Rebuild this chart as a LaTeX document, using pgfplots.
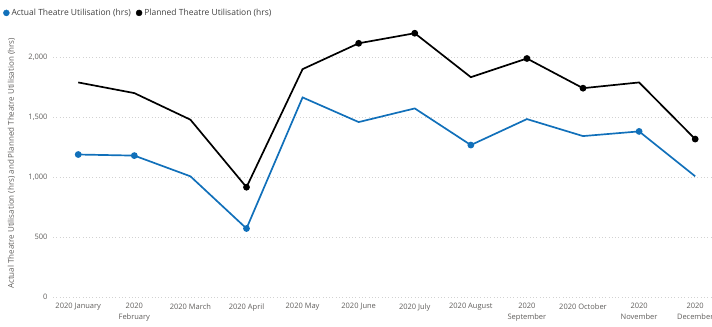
\documentclass[border=0pt]{standalone}
\usepackage{fontspec}
\setmainfont{Open Sans}
\usepackage{pgfplots}
\pgfplotsset{compat=1.18}
\usepackage{pgfplotstable}

\definecolor{actualblue}{RGB}{17,112,186}
\definecolor{ticktext}{RGB}{96,94,92}
\definecolor{legendtext}{RGB}{64,64,64}
\definecolor{gridgray}{RGB}{210,210,210}

% month index, hours
\pgfplotstableread{
m actual planned
0  1190 1792
1  1181 1703
2  1008 1481
3  572  917
4  1667 1903
5  1461 2119
6  1575 2203
7  1269 1836
8  1486 1992
9  1344 1744
10 1383 1792
11 1008 1319
}\theatre

\begin{document}
\begin{tikzpicture}
\path[use as bounding box] (0,0) rectangle (712bp,327bp);
\begin{axis}[
  at={(53bp,30bp)}, anchor=south west,
  scale only axis,
  width=659bp, height=267bp,
  xmin=-0.45, xmax=11.3,
  ymin=0, ymax=2230,
  axis line style={draw=none},
  major tick length=0pt,
  ytick={0,500,1000,1500,2000},
  yticklabel style={font=\fontsize{7.5bp}{9bp}\selectfont, text=ticktext, xshift=-2bp},
  /pgf/number format/assume math mode=true,
  /pgf/number format/1000 sep={,},
  ymajorgrids,
  grid style={gridgray, line width=0.7pt, dash pattern=on 0.7pt off 2.6pt},
  xtick={0,...,11},
  xticklabels={2020 January, 2020\\February, 2020 March, 2020 April, 2020 May, 2020 June, 2020 July, 2020 August, 2020\\September, 2020 October, 2020\\November, 2020\\December},
  xticklabel style={font=\fontsize{7.5bp}{11bp}\selectfont, text=ticktext, align=center, anchor=north, yshift=-3bp},
  ylabel={Actual Theatre Utilisation (hrs) and Planned Theatre Utilisation (hrs)},
  ylabel style={font=\fontsize{8bp}{9bp}\selectfont, text=ticktext},
  every axis y label/.append style={at={(axis description cs:-0.052,0.5)}, anchor=south, rotate=0},
  legend columns=2,
  legend style={at={(axis description cs:-0.0759,1.064)}, anchor=west, draw=none, fill=none,
    font=\fontsize{8.5bp}{10bp}\selectfont, text=legendtext,
    /tikz/every even column/.append style={column sep=3bp}, inner sep=0pt},
  legend image code/.code={\fill (0.1cm,0cm) circle (3bp);},
  clip=false,
]
\addlegendimage{actualblue, fill=actualblue}
\addlegendentry{Actual Theatre Utilisation (hrs)}
\addlegendimage{black, fill=black}
\addlegendentry{Planned Theatre Utilisation (hrs)}

\addplot[forget plot, actualblue, line width=1.7pt, mark=*, mark size=2.5bp,
  mark indices={1,2,4,8,11}, mark options={solid, fill=actualblue}]
  table[x=m, y=actual] {\theatre};
\addplot[forget plot, black, line width=1.7pt, mark=*, mark size=2.5bp,
  mark indices={4,6,7,9,10,12}, mark options={solid, fill=black}]
  table[x=m, y=planned] {\theatre};
\end{axis}
\end{tikzpicture}
\end{document}
